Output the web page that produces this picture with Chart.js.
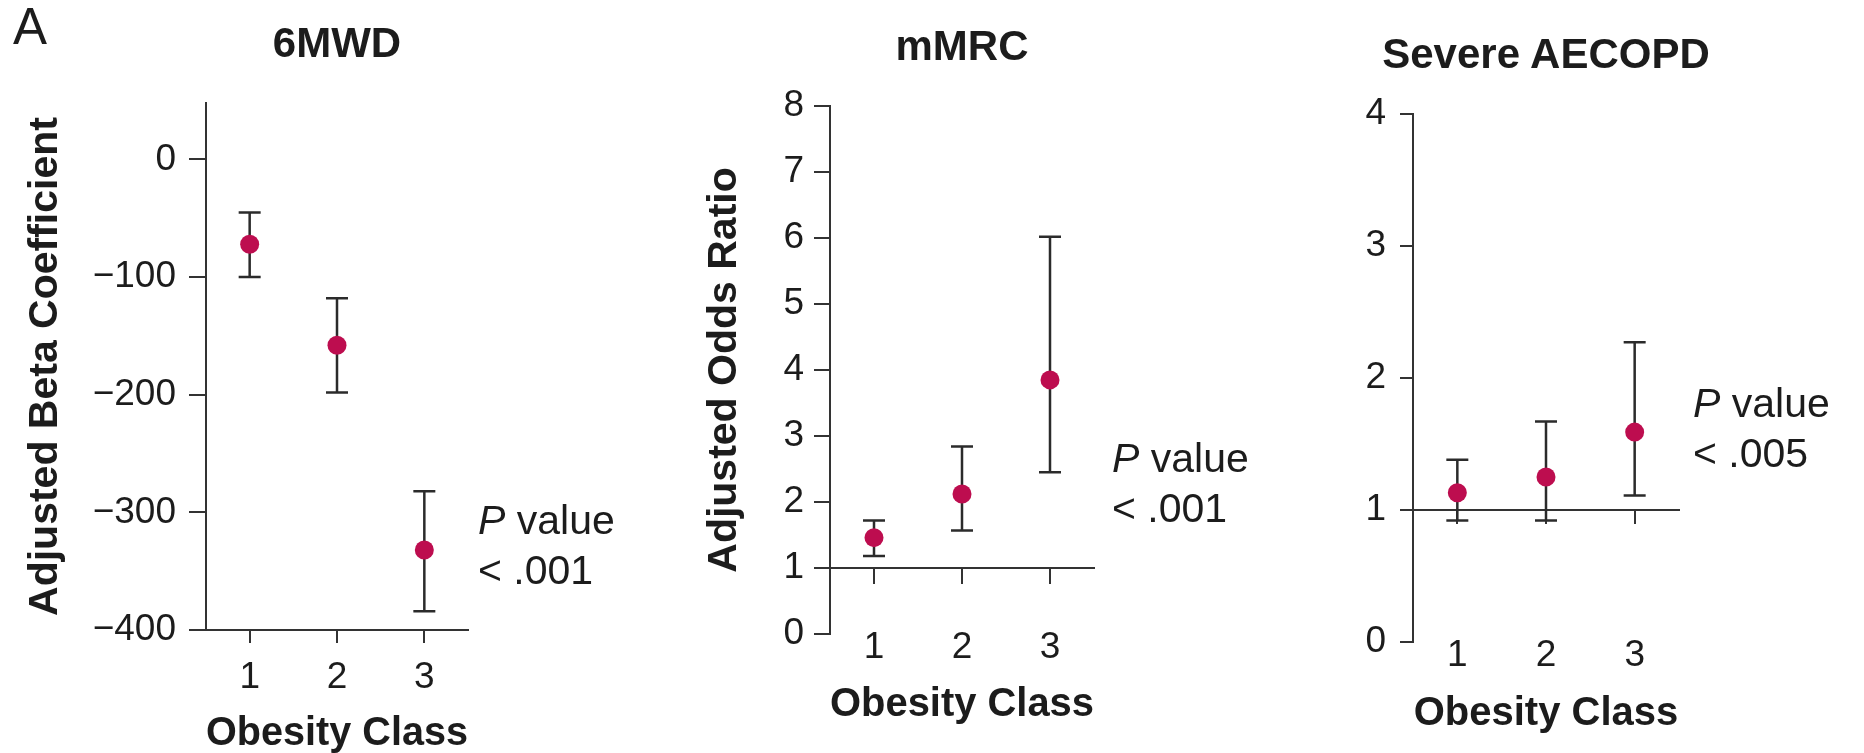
<!DOCTYPE html>
<html>
<head>
<meta charset="utf-8">
<title>Obesity class and COPD outcomes</title>
<script src="https://cdn.jsdelivr.net/npm/chart.js@4.4.1/dist/chart.umd.min.js"></script>
<style>
  html, body { margin: 0; padding: 0; background: #fff; }
  body { position: relative; width: 1864px; height: 753px; overflow: hidden; }
  canvas { position: absolute; top: 0; }
  .panel-tag { position: absolute; left: 13px; top: 1px; font: 51px/1 'Liberation Sans', Arial, sans-serif; color: #1c1c1c; }
  .note { position: absolute; font: 41px/50px 'Liberation Sans', Arial, sans-serif; color: #1c1c1c; white-space: nowrap; }
  .heading { position: absolute; width: 500px; text-align: center; font: bold 42px/1 'Liberation Sans', Arial, sans-serif; color: #1c1c1c; white-space: nowrap; }
</style>
</head>
<body>
<div class="panel-tag">A</div>
<canvas id="walk" width="560" height="770" style="left:0px"></canvas>
<canvas id="dyspnea" width="620" height="770" style="left:600px"></canvas>
<canvas id="exacerbation" width="560" height="770" style="left:1240px"></canvas>
<div class="heading" style="left:1296px; top:32.5px;">Severe AECOPD</div>
<div class="note" style="left:478px; top:495px;"><i>P</i> value<br>&lt; .001</div>
<div class="note" style="left:1112px; top:433px;"><i>P</i> value<br>&lt; .001</div>
<div class="note" style="left:1693px; top:378px;"><i>P</i> value<br>&lt; .005</div>
<script>
// Obesity classes on the x axis
const obesityClass = [1, 2, 3];
const classTicks = [1, 2, 3];

// 6-minute walk distance: adjusted beta coefficient with 95% CI
const walkEstimate = [-72, -158, -332];
const walkLower = [-100, -198, -384];
const walkUpper = [-45, -118, -282];
const walkTicks = [-400, -300, -200, -100, 0];

// mMRC dyspnea: adjusted odds ratio with 95% CI
const dyspneaEstimate = [1.46, 2.12, 3.85];
const dyspneaLower = [1.18, 1.57, 2.45];
const dyspneaUpper = [1.72, 2.84, 6.02];
const dyspneaTicks = [0, 1, 2, 3, 4, 5, 6, 7, 8];

// Severe exacerbations: adjusted odds ratio with 95% CI
const exacerbationEstimate = [1.13, 1.25, 1.59];
const exacerbationLower = [0.92, 0.92, 1.11];
const exacerbationUpper = [1.38, 1.67, 2.27];
const exacerbationTicks = [0, 1, 2, 3, 4];

const FONT = "'Liberation Sans', Arial, sans-serif";
const INK = '#1c1c1c';
const AXIS = '#333333';
const DOT = '#bd0d4f';

Chart.defaults.font.family = FONT;
Chart.defaults.color = INK;

// Vertical confidence-interval whiskers with caps, drawn under the points
const errorBars = {
  id: 'errorBars',
  beforeDatasetsDraw(chart, args, opts) {
    const { ctx, scales: { x, y } } = chart;
    ctx.save();
    ctx.strokeStyle = opts.color;
    ctx.lineWidth = opts.width;
    chart.data.datasets[0].data.forEach(d => {
      const px = x.getPixelForValue(d.x);
      const top = y.getPixelForValue(d.hi);
      const bot = y.getPixelForValue(d.lo);
      ctx.beginPath();
      ctx.moveTo(px, top); ctx.lineTo(px, bot);
      ctx.moveTo(px - opts.cap, top); ctx.lineTo(px + opts.cap, top);
      ctx.moveTo(px - opts.cap, bot); ctx.lineTo(px + opts.cap, bot);
      ctx.stroke();
    });
    ctx.restore();
  }
};

function makePanel(id, p) {
  const points = obesityClass.map((c, i) => ({ x: c, y: p.est[i], lo: p.lo[i], hi: p.hi[i] }));
  return new Chart(document.getElementById(id), {
    type: 'scatter',
    data: {
      datasets: [{
        data: points,
        backgroundColor: DOT,
        borderWidth: 0,
        pointRadius: 9.5,
        pointHoverRadius: 9.5
      }]
    },
    plugins: [errorBars],
    options: {
      responsive: false,
      maintainAspectRatio: false,
      devicePixelRatio: 1,
      animation: false,
      events: [],
      layout: { padding: p.pad },
      plugins: {
        legend: { display: false },
        tooltip: { enabled: false },
        title: {
          display: !!p.title,
          text: p.title || '',
          fullSize: false,
          color: INK,
          font: { size: 42, weight: 'bold' },
          padding: { top: 0, bottom: p.titleGap }
        },
        errorBars: { color: '#2b2b2b', width: 2.5, cap: 11 }
      },
      scales: {
        x: {
          type: 'linear',
          position: p.xPos,
          min: 0.5,
          max: 3.5,
          afterBuildTicks: s => { s.ticks = classTicks.map(v => ({ value: v })); },
          afterFit: s => { s.height = p.xHeight; },
          ticks: {
            font: { size: 37 },
            color: INK,
            padding: p.xTickPad,
            maxRotation: 0,
            callback: v => String(v)
          },
          grid: { drawOnChartArea: false, drawTicks: true, tickLength: p.xTickLen, tickColor: AXIS, color: AXIS, lineWidth: 2 },
          border: { display: true, color: AXIS, width: 2 },
          title: {
            display: true,
            text: 'Obesity Class',
            color: INK,
            font: { size: 40, weight: 'bold' },
            padding: 0
          }
        },
        y: {
          type: 'linear',
          position: 'left',
          min: p.yMin,
          max: p.yMax,
          afterBuildTicks: s => { s.ticks = p.yTicks.map(v => ({ value: v })); },
          afterFit: s => { s.width = p.yWidth; },
          ticks: {
            font: { size: 37 },
            color: INK,
            padding: p.yTickPad,
            callback: v => (v < 0 ? '\u2212' + Math.abs(v) : String(v))
          },
          grid: { drawOnChartArea: false, drawTicks: true, tickLength: p.yTickLen, tickColor: AXIS, color: AXIS, lineWidth: 2 },
          border: { display: true, color: AXIS, width: 2 },
          title: {
            display: !!p.yTitle,
            text: p.yTitle || '',
            color: INK,
            font: { size: 41, weight: 'bold' },
            padding: { top: p.yTitlePad, bottom: 0 }
          }
        }
      }
    }
  });
}

makePanel('walk', {
  title: '6MWD',
  est: walkEstimate, lo: walkLower, hi: walkUpper,
  yMin: -400, yMax: 48, yTicks: walkTicks,
  yTitle: 'Adjusted Beta Coefficient', yTitlePad: 11.4,
  pad: { left: 10, right: 92, top: 19.8, bottom: 12 },
  titleGap: 32.8,
  yWidth: 196, yTickLen: 17, yTickPad: 13,
  xPos: 'bottom', xHeight: 128, xTickLen: 13, xTickPad: 12.8
});

makePanel('dyspnea', {
  title: 'mMRC',
  est: dyspneaEstimate, lo: dyspneaLower, hi: dyspneaUpper,
  yMin: 0, yMax: 8, yTicks: dyspneaTicks,
  yTitle: 'Adjusted Odds Ratio', yTitlePad: 0.4,
  pad: { left: 100, right: 126, top: 22.8, bottom: 136 },
  titleGap: 32.8,
  yWidth: 130, yTickLen: 16, yTickPad: 10,
  xPos: { y: 1 }, xHeight: 161, xTickLen: 15, xTickPad: 42.8
});

// The wide heading of this panel is set as page text above the canvas
makePanel('exacerbation', {
  title: null,
  est: exacerbationEstimate, lo: exacerbationLower, hi: exacerbationUpper,
  yMin: 0, yMax: 4, yTicks: exacerbationTicks,
  yTitle: null, yTitlePad: 0,
  pad: { left: 73, right: 121, top: 114, bottom: 128 },
  titleGap: 0,
  yWidth: 100, yTickLen: 13, yTickPad: 14,
  xPos: { y: 1 }, xHeight: 228, xTickLen: 13, xTickPad: 110.8
});
</script>
</body>
</html>
